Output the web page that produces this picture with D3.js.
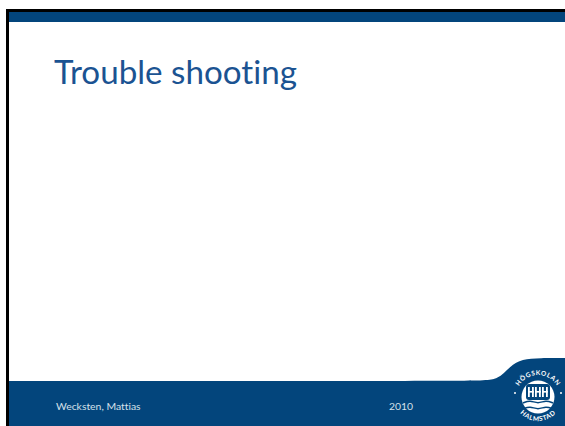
<!DOCTYPE html>
<html>
<head>
<meta charset="utf-8">
<script src="https://cdn.jsdelivr.net/npm/d3@7"></script>
<style>
html, body { margin: 0; padding: 0; background: #fff; }
svg { display: block; }
text { font-family: Lato, sans-serif; font-variant-ligatures: none; }
</style>
</head>
<body>
<div id="slide"></div>
<script>
const titleText = 'Trouble shooting';
const footerLabels = ['Wecksten, Mattias', '2010'];
const logoTop = 'HÖGSKOLAN';
const logoBottom = 'HALMSTAD';
const towerBars = [0, 1, 2];
const ringDots = [-1, 1];

const svgWidth = 565;
const svgHeight = 426;
const blue = '#03457c';

const svg = d3.select('#slide').append('svg')
    .attr('width', svgWidth)
    .attr('height', svgHeight);

// slide frame
svg.append('rect').attr('width', svgWidth).attr('height', svgHeight).attr('fill', '#fff');
svg.append('rect').attr('x', 6).attr('y', 9).attr('width', svgWidth - 6).attr('height', svgHeight - 9).attr('fill', '#000');
svg.append('rect').attr('x', 9).attr('y', 12).attr('width', svgWidth - 9).attr('height', svgHeight - 12).attr('fill', '#fff');
svg.append('rect').attr('x', 9).attr('y', 12).attr('width', svgWidth - 9).attr('height', 10).attr('fill', blue);

// footer with the swoosh on the right
const footerLine = d3.line().curve(d3.curveBasis);
const footerTop = [[9, 381], [300, 381], [480, 381], [498, 380], [510, 366], [522, 359], [540, 358], [565, 358]];
svg.append('path')
    .attr('d', footerLine(footerTop) + `L${svgWidth},${svgHeight}L9,${svgHeight}Z`)
    .attr('fill', blue);

svg.append('text')
    .attr('x', 54).attr('y', 84)
    .attr('font-size', 33.2)
    .attr('fill', '#1b5392')
    .text(titleText);

svg.selectAll('.foot').data(footerLabels).enter().append('text')
    .attr('class', 'foot')
    .attr('x', (d, i) => i === 0 ? 56 : 389)
    .attr('y', 410)
    .attr('font-size', 10.4)
    .attr('fill', '#d5e0ea')
    .text(d => d);

// logo
const logo = svg.append('g').attr('transform', 'translate(538,397)');
logo.append('circle').attr('r', 16.5).attr('fill', '#fff');
logo.append('rect').attr('x', -12).attr('y', -13).attr('width', 24).attr('height', 16).attr('rx', 3).attr('fill', blue);
// three H shapes
towerBars.forEach(d => {
    const x = -10 + d * 7;
    logo.append('rect').attr('x', x).attr('y', -10).attr('width', 1.8).attr('height', 10).attr('fill', '#fff');
    logo.append('rect').attr('x', x + 4).attr('y', -10).attr('width', 1.8).attr('height', 10).attr('fill', '#fff');
    logo.append('rect').attr('x', x).attr('y', -6).attr('width', 5.8).attr('height', 1.6).attr('fill', '#fff');
});
const wave = d3.line().curve(d3.curveBasis);
[5, 11].forEach(y => {
    logo.append('path')
        .attr('d', wave([[-15, y + 1], [-8, y - 2], [0, y + 2], [8, y - 2], [15, y + 1]]))
        .attr('fill', 'none').attr('stroke', blue).attr('stroke-width', 1.5);
});
const defs = svg.append('defs');
defs.append('path').attr('id', 'arcTop').attr('d', 'M-22,0A22,22 0 0 1 22,0');
defs.append('path').attr('id', 'arcBottom').attr('d', 'M-24,0A24,24 0 0 0 24,0');
logo.append('text').attr('font-size', 6.5).attr('font-weight', 700).attr('letter-spacing', 0.6).attr('fill', '#fff').attr('text-anchor', 'middle')
    .append('textPath').attr('href', '#arcTop').attr('startOffset', '50%').text(logoTop);
logo.append('text').attr('font-size', 6.5).attr('font-weight', 700).attr('letter-spacing', 0.6).attr('fill', '#fff').attr('text-anchor', 'middle')
    .append('textPath').attr('href', '#arcBottom').attr('startOffset', '50%').text(logoBottom);
logo.selectAll('.dot').data(ringDots).enter().append('circle')
    .attr('class', 'dot')
    .attr('cx', d => d * 23)
    .attr('cy', -4)
    .attr('r', 1)
    .attr('fill', '#fff');
</script>
</body>
</html>
